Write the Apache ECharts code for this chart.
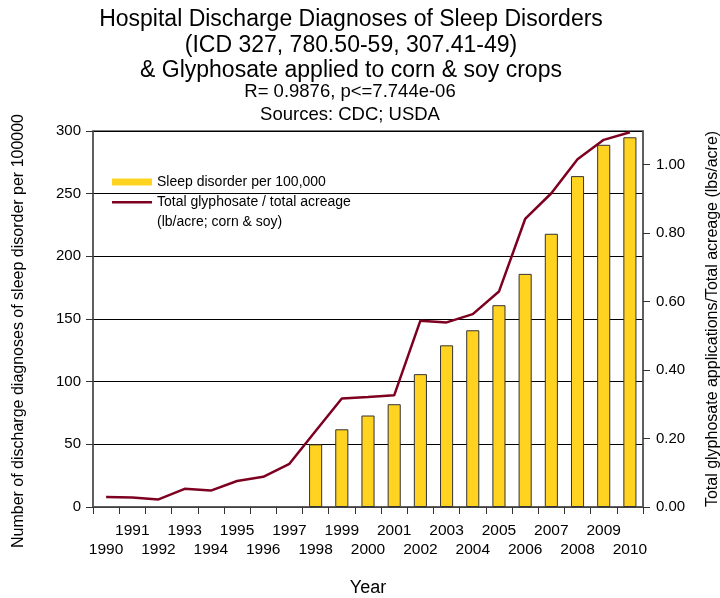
<!DOCTYPE html>
<html>
<head>
<meta charset="utf-8">
<script src="https://cdn.jsdelivr.net/npm/echarts@6/dist/echarts.min.js"></script>
<style>
  html, body { margin: 0; padding: 0; background: #fff; }
  #chart { width: 720px; height: 598px; }
</style>
</head>
<body>
<div id="chart"></div>
<script>
const years = ['1990', '1991', '1992', '1993', '1994', '1995', '1996', '1997', '1998', '1999', '2000',
  '2001', '2002', '2003', '2004', '2005', '2006', '2007', '2008', '2009', '2010'];
// sleep disorder discharges per 100,000 (no data before 1998)
const sleepDisorder = [null, null, null, null, null, null, null, null, 50, 62, 73,
  82, 106, 129, 141, 161, 186, 218, 264, 289, 295];
// glyphosate lb/acre on corn & soy
const glyphosate = [0.029, 0.028, 0.022, 0.053, 0.048, 0.076, 0.088, 0.126, 0.222, 0.317, 0.321,
  0.326, 0.544, 0.539, 0.563, 0.629, 0.841, 0.916, 1.015, 1.072, 1.094];
const rightTicks = [0, 0.2, 0.4, 0.6, 0.8, 1.0];

const font = 'Liberation Sans, Arial, sans-serif';
const chart = echarts.init(document.getElementById('chart'));

const option = {
  backgroundColor: '#fff',
  animation: false,
  textStyle: { fontFamily: font },
  title: [
    {
      text: 'Hospital Discharge Diagnoses of Sleep Disorders\n(ICD 327, 780.50-59, 307.41-49)\n& Glyphosate applied to corn & soy crops',
      left: 351, top: 7, padding: 0, textAlign: 'center',
      textStyle: { fontFamily: font, fontSize: 23, fontWeight: 'normal', color: '#000', lineHeight: 25.5 }
    },
    {
      text: 'R= 0.9876, p<=7.744e-06\nSources: CDC; USDA',
      left: 350, top: 80, padding: 0, textAlign: 'center',
      textStyle: { fontFamily: font, fontSize: 18.5, fontWeight: 'normal', color: '#000', lineHeight: 23 }
    }
  ],
  legend: [
    {
      data: [{ name: 'Sleep disorder per 100,000', icon: 'rect' }],
      left: 112, top: 175, padding: 0,
      itemWidth: 40, itemHeight: 7,
      itemStyle: { borderWidth: 0 },
      textStyle: { fontFamily: font, fontSize: 14, color: '#000' }
    },
    {
      // thin line at the top of the icon box so it sits beside the first text line
      data: [{ name: 'Total glyphosate / total acreage\n(lb/acre; corn & soy)', icon: 'path://M0,0 L40,0 L40,2.5 L0,2.5 Z M0,22 L0,22' }],
      left: 112, top: 192, padding: 0,
      itemWidth: 40, itemHeight: 22,
      itemStyle: { borderWidth: 0 },
      textStyle: { fontFamily: font, fontSize: 14, color: '#000', lineHeight: 20 }
    }
  ],
  grid: {
    left: 93, right: 77, top: 131, bottom: 91,
    show: true, borderColor: '#555', borderWidth: 1.5,
    outerBoundsMode: 'none'
  },
  xAxis: {
    type: 'category',
    data: years,
    boundaryGap: true,
    name: 'Year',
    nameLocation: 'middle',
    nameGap: 72,
    nameTextStyle: { fontFamily: font, fontSize: 18, color: '#000' },
    axisLine: { lineStyle: { color: '#555', width: 1.5 } },
    axisTick: { show: true, interval: 0, length: 7, lineStyle: { color: '#333' } },
    axisLabel: {
      interval: 0,
      margin: 14,
      fontFamily: font, fontSize: 15.5, color: '#000', lineHeight: 19,
      formatter: (v, i) => (i % 2 === 0 ? '\n' + v : v + '\n')
    },
    splitLine: { show: false }
  },
  yAxis: [
    {
      type: 'value',
      min: 0, max: 300, interval: 50,
      name: 'Number of discharge diagnoses of sleep disorder per 100000',
      nameLocation: 'middle',
      nameRotate: 90,
      nameGap: 66,
      nameTextStyle: { fontFamily: font, fontSize: 16, color: '#000', padding: [0, 24, 0, 0] },
      axisLine: { show: true, lineStyle: { color: '#555', width: 1.5 } },
      axisTick: { show: true, length: 7, lineStyle: { color: '#333' } },
      axisLabel: { margin: 12, fontFamily: font, fontSize: 15, color: '#000' },
      splitLine: { show: true, lineStyle: { color: '#000', width: 1 } }
    },
    {
      type: 'value',
      position: 'right',
      min: 0, max: 1.0978,
      name: 'Total glyphosate applications/Total acreage (lbs/acre)',
      nameLocation: 'middle',
      nameRotate: 90,
      nameGap: 62,
      nameTextStyle: { fontFamily: font, fontSize: 16, color: '#000' },
      axisLine: { show: true, lineStyle: { color: '#555', width: 1.5 } },
      axisTick: { show: true, length: 7, customValues: rightTicks, lineStyle: { color: '#333' } },
      axisLabel: {
        margin: 13, customValues: rightTicks,
        fontFamily: font, fontSize: 15, color: '#000',
        formatter: v => v.toFixed(2)
      },
      splitLine: { show: false }
    }
  ],
  series: [
    {
      name: 'Sleep disorder per 100,000',
      type: 'bar',
      data: sleepDisorder,
      barWidth: '50%',
      itemStyle: { color: '#FFD320', borderColor: '#333', borderWidth: 1 },
      z: 2
    },
    {
      name: 'Total glyphosate / total acreage\n(lb/acre; corn & soy)',
      type: 'line',
      yAxisIndex: 1,
      data: glyphosate,
      symbol: 'none',
      itemStyle: { color: '#7E0021' },
      lineStyle: { color: '#7E0021', width: 2.5 },
      z: 3
    }
  ]
};
chart.setOption(option);
</script>
</body>
</html>
